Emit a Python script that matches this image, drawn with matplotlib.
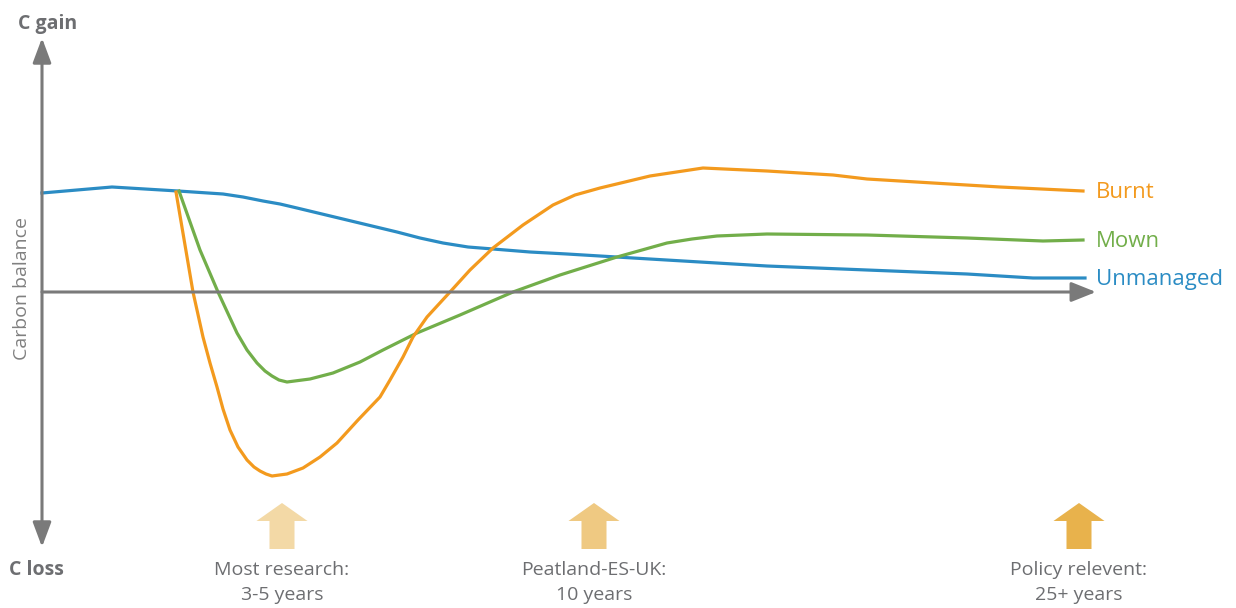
import matplotlib
matplotlib.use("Agg")
import matplotlib.pyplot as plt

plt.rcParams['font.family'] = ['Open Sans', 'DejaVu Sans']

# curves: time (x) and carbon balance (above zero = gain)
unmanaged_t = [42, 112, 178, 223, 243, 263, 280, 297, 322, 347, 372, 397, 420, 443, 468, 493, 530, 567,
               633, 700, 767, 867, 967, 1033, 1085]
unmanaged_c = [99, 105, 101, 98, 95, 91, 88, 84, 78, 72, 66, 60, 54, 49, 45, 43, 40, 38,
               34, 30, 26, 22, 18, 14, 14]

burnt_t = [176, 185, 193, 203, 210, 217, 223, 230, 238, 247, 254, 260, 266, 272, 287, 303, 320, 337,
           358, 380, 390, 403, 413, 427, 450, 470, 493, 523, 553, 575, 600, 625, 650, 703,
           767, 833, 867, 933, 1000, 1083]
burnt_c = [100, 47, 0, -45, -71, -95, -117, -138, -155, -168, -175, -179, -182, -184, -182, -176, -165, -151,
           -128, -105, -88, -65, -45, -25, 0, 22, 44, 67, 87, 97, 104, 110, 116, 124,
           121, 117, 113, 109, 105, 101]

mown_t = [179, 200, 218, 237, 247, 257, 265, 272, 279, 287, 310, 333, 360, 383, 417, 460, 513, 560,
          617, 667, 692, 717, 767, 867, 967, 1043, 1083]
mown_c = [101, 42, 0, -41, -58, -71, -79, -84, -88, -90, -87, -81, -70, -58, -41, -23, 0, 17,
          35, 49, 53, 56, 58, 57, 54, 51, 52]

series_names = ['Burnt', 'Mown', 'Unmanaged']
series_colors = ['#F39A1E', '#72AE4A', '#2B8CC4']

# study horizons marked with block arrows
horizon_t = [282, 594, 1079]
horizon_line1 = ['Most research:', 'Peatland-ES-UK:', 'Policy relevent:']
horizon_line2 = ['3-5 years', '10 years', '25+ years']
horizon_colors = ['#F3D9A6', '#EFC982', '#E8B24C']

gray = '#6D6E71'
axis_gray = '#7A7A7A'

fig = plt.figure(figsize=(12.36, 6.08), dpi=100)
ax = fig.add_axes([0, 0, 1, 1])
ax.set_xlim(0, 1236)
ax.set_ylim(-316, 292)
ax.set_axis_off()

# axes drawn as arrows
ax.annotate('', xy=(42, 254), xytext=(42, -255),
            arrowprops=dict(arrowstyle='<|-|>,head_length=0.75,head_width=0.28', mutation_scale=20,
                            color=axis_gray, lw=2.2, shrinkA=0, shrinkB=0))
ax.annotate('', xy=(1096, 0), xytext=(42, 0),
            arrowprops=dict(arrowstyle='-|>,head_length=0.75,head_width=0.3', mutation_scale=20,
                            color=axis_gray, lw=2.2, shrinkA=0, shrinkB=0))

# curves
ax.plot(unmanaged_t, unmanaged_c, color=series_colors[2], lw=2.3, solid_joinstyle='round')
ax.plot(mown_t, mown_c, color=series_colors[1], lw=2.3, solid_joinstyle='round')
ax.plot(burnt_t, burnt_c, color=series_colors[0], lw=2.3, solid_joinstyle='round')

ends = [burnt_c[-1], mown_c[-1], unmanaged_c[-1]]
for name, col, c in zip(series_names, series_colors, ends):
    ax.text(1096, c - 7, name, color=col, fontsize=16, ha='left', va='baseline')

# axis labels
ax.text(48, 263, 'C gain', color=gray, fontsize=14, fontweight='bold', ha='center', va='baseline')
ax.text(36, -283, 'C loss', color=gray, fontsize=14, fontweight='bold', ha='center', va='baseline')
ax.text(22, 4, 'Carbon balance', color='#808080', fontsize=14, rotation=90, ha='center', va='center')

# horizon arrows and labels
for t, l1, l2, col in zip(horizon_t, horizon_line1, horizon_line2, horizon_colors):
    ax.arrow(t, -257, 0, 46, width=25, head_width=51, head_length=18,
             length_includes_head=True, color=col, lw=0)
    ax.text(t, -283, l1, color=gray, fontsize=14, ha='center', va='baseline')
    ax.text(t, -308, l2, color=gray, fontsize=14, ha='center', va='baseline')

fig.savefig('out.png', dpi=100)
